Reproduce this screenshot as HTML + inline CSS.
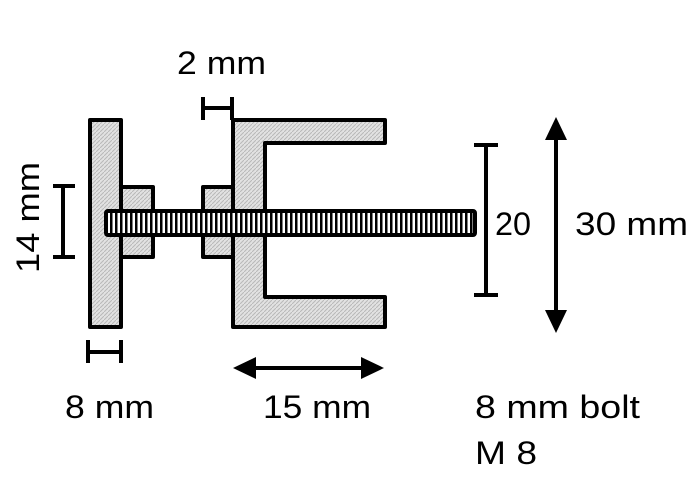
<!DOCTYPE html>
<html><head><style>
html,body{margin:0;padding:0;background:#fff;}
svg{display:block}
text{font-family:"Liberation Sans",sans-serif;font-size:32px;fill:#000}
</style></head><body>
<svg width="700" height="485" viewBox="0 0 700 485" xmlns="http://www.w3.org/2000/svg">
<defs>
<pattern id="h" width="4" height="4" patternUnits="userSpaceOnUse">
<rect width="4" height="4" fill="#e2e2e2"/>
<path d="M0 4L4 0" stroke="#b8b8b8" stroke-width="1"/>
</pattern>
<pattern id="t" width="5" height="25" patternUnits="userSpaceOnUse">
<rect width="5" height="25" fill="#fff"/>
<rect width="2.5" height="25" fill="#000"/>
</pattern>
</defs>
<g stroke="#000" stroke-width="4" stroke-linejoin="round">
<rect x="90" y="120" width="31" height="207" fill="url(#h)"/>
<rect x="121" y="187" width="32" height="70" fill="url(#h)"/>
<rect x="203" y="187" width="30" height="70" fill="url(#h)"/>
<path d="M233 120H385V143H265V297H385V327H233Z" fill="url(#h)"/>
<rect x="106" y="211" width="369" height="24" fill="url(#t)" rx="2"/>
</g>
<g stroke="#000" stroke-width="4" fill="none">
<path d="M203 97V120M232 97V120M203 108H232"/>
<path d="M53 186H75M53 257H75M63 186V257"/>
<path d="M88 340V363M121 340V363M88 352H121"/>
<path d="M474 145H498M474 295H498M486 145V295"/>
<path d="M556 135V315"/>
<path d="M250 368H368"/>
</g>
<g fill="#000">
<path d="M556 117L545 140H567Z"/>
<path d="M556 333L545 310H567Z"/>
<path d="M233 368L256 357V379Z"/>
<path d="M384 368L361 357V379Z"/>
</g>
<text x="177" y="74" textLength="89" lengthAdjust="spacingAndGlyphs">2 mm</text>
<text x="495" y="235" textLength="36" lengthAdjust="spacingAndGlyphs">20</text>
<text x="575" y="235" textLength="113" lengthAdjust="spacingAndGlyphs">30 mm</text>
<text x="65" y="418" textLength="89" lengthAdjust="spacingAndGlyphs">8 mm</text>
<text x="263" y="418" textLength="108" lengthAdjust="spacingAndGlyphs">15 mm</text>
<text x="475" y="418" textLength="165" lengthAdjust="spacingAndGlyphs">8 mm bolt</text>
<text x="475" y="464" textLength="62" lengthAdjust="spacingAndGlyphs">M 8</text>
<text transform="translate(39,273) rotate(-90)" textLength="111" lengthAdjust="spacingAndGlyphs">14 mm</text>
</svg>
</body></html>
